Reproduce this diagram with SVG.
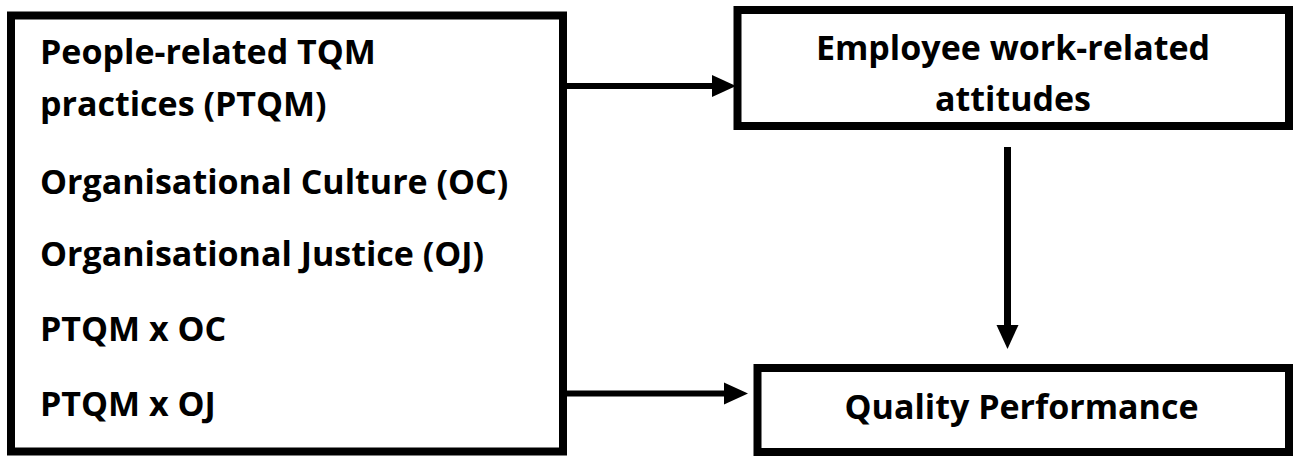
<svg xmlns="http://www.w3.org/2000/svg" width="1293" height="456" viewBox="0 0 1293 456">
<style>
.box{fill:#fff;stroke:#000;stroke-width:8}
.t{font-family:"Open Sans","Liberation Sans",sans-serif;font-weight:bold;font-size:34px;fill:#000}
.c{fill:none;stroke:#000;stroke-width:6}
</style>
<defs>
<marker id="ah" markerUnits="userSpaceOnUse" markerWidth="24" markerHeight="24" refX="0" refY="11" orient="auto" overflow="visible">
<path d="M0,0 L24,11 L0,22 z" fill="#000"/>
</marker>
</defs>
<rect width="1293" height="456" fill="#fff"/>
<g id="inputs">
<rect class="box" x="11" y="15.5" width="552" height="436"/>
<text class="t" x="40" y="64">People-related TQM</text>
<text class="t" x="40" y="116">practices (PTQM)</text>
<text class="t" x="40" y="194">Organisational Culture (OC)</text>
<text class="t" x="40" y="266">Organisational Justice (OJ)</text>
<text class="t" x="40" y="341">PTQM x OC</text>
<text class="t" x="40" y="416">PTQM x OJ</text>
</g>
<g id="attitudes">
<rect class="box" x="737.5" y="10" width="551.5" height="116"/>
<text class="t" x="1013" y="60" text-anchor="middle">Employee work-related</text>
<text class="t" x="1013" y="111" text-anchor="middle">attitudes</text>
</g>
<g id="quality">
<rect class="box" x="757.5" y="368" width="531.5" height="84"/>
<text class="t" x="1021.5" y="419" text-anchor="middle">Quality Performance</text>
</g>
<g id="connectors">
<line class="c" x1="567" y1="86" x2="712" y2="86" marker-end="url(#ah)"/>
<line class="c" x1="1007.5" y1="147" x2="1007.5" y2="325" style="stroke-width:7" marker-end="url(#ah)"/>
<line class="c" x1="567" y1="393.5" x2="724" y2="393.5" marker-end="url(#ah)"/>
</g>
</svg>
